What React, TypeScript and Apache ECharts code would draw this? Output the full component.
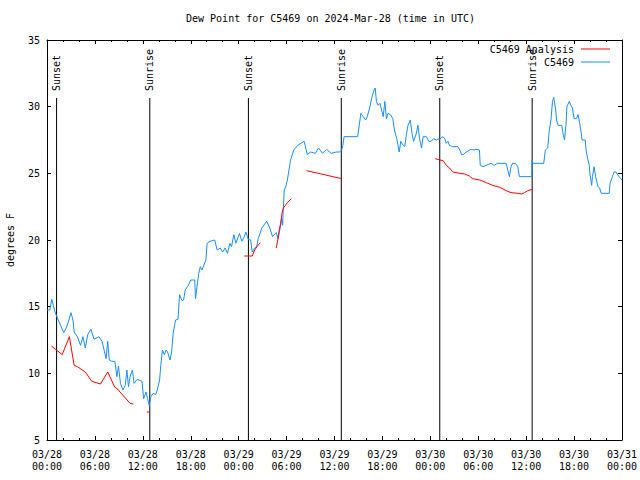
import React, { useEffect, useRef } from "react";
import * as echarts from "echarts";

// Hours since 2024-03-28 00:00 UTC
const START_UTC = Date.UTC(2024, 2, 28, 0, 0);

const TITLE = "Dew Point for C5469 on 2024-Mar-28 (time in UTC)";
const Y_NAME = "degrees F";
const SERIES_NAMES = ["C5469 Analysis", "C5469"];

// Y axis ticks
const Y_MIN = 5;
const Y_MAX = 35;
const Y_STEP = 5;
// X axis (hours)
const X_MIN = 0;
const X_MAX = 72;
const X_STEP = 6;

// Station observations [hour, value]
const stationObs: [number, number][] = [
  [0.0, 14.75], [0.35, 14.75], [0.6, 15.55], [0.8, 15.1], [1.0, 14.6], [1.3, 14.15],
  [1.7, 13.6], [2.1, 13.05], [2.4, 13.4], [2.7, 13.9], [3.0, 14.55], [3.25, 14.0],
  [3.4, 13.1], [3.8, 12.75], [4.2, 12.1], [4.5, 12.75], [4.8, 11.9], [5.1, 12.9],
  [5.5, 13.3], [5.9, 12.55], [6.5, 12.75], [6.9, 12.4], [7.2, 11.6], [7.4, 11.1],
  [7.6, 12.4], [7.8, 11.0], [8.1, 10.9], [8.5, 10.9], [8.75, 9.75], [8.95, 10.55],
  [9.2, 9.25], [9.5, 8.75], [9.8, 9.1], [10.0, 10.25], [10.2, 9.0], [10.4, 9.75],
  [10.7, 10.25], [10.9, 9.25], [11.3, 9.55], [11.9, 9.4], [12.1, 8.1], [12.4, 8.6],
  [12.6, 8.1], [12.8, 7.6], [13.0, 8.25], [13.3, 8.5], [13.6, 8.4], [13.8, 8.75],
  [14.1, 9.5], [14.25, 10.6], [14.45, 11.75], [14.7, 11.4], [14.9, 11.75], [15.1, 11.6],
  [15.4, 11.0], [15.6, 11.6], [15.8, 13.0], [16.1, 14.0], [16.4, 14.05], [16.6, 15.9],
  [16.9, 15.45], [17.1, 15.5], [17.3, 16.25], [17.7, 16.6], [18.0, 17.0], [18.5, 17.0],
  [18.6, 15.6], [18.7, 16.1], [19.0, 17.5], [19.2, 18.0], [19.4, 17.75], [19.9, 18.5],
  [20.05, 19.75], [20.4, 19.9], [21.0, 20.0], [21.3, 19.25], [21.7, 19.4], [22.0, 19.1],
  [22.3, 19.4], [22.6, 19.0], [22.9, 19.75], [23.1, 19.5], [23.4, 20.4], [23.65, 19.75],
  [24.1, 20.5], [24.4, 19.9], [24.7, 20.25], [24.9, 20.6], [25.2, 20.05], [25.5, 20.0],
  [25.7, 19.1], [26.0, 19.4], [26.25, 19.5], [26.45, 20.1], [26.9, 20.9], [27.5, 21.4],
  [27.9, 20.9], [28.25, 20.25], [28.7, 20.55], [28.95, 20.1], [29.2, 20.9], [29.4, 21.6],
  [29.5, 21.1], [29.6, 22.4], [29.7, 23.75], [29.9, 24.0], [30.1, 24.5], [30.5, 26.0],
  [30.9, 26.75], [31.4, 27.1], [31.9, 27.3], [32.2, 27.4], [32.6, 26.4], [33.0, 26.6],
  [33.6, 26.5], [34.0, 26.9], [34.5, 26.5], [35.0, 26.8], [35.6, 26.5], [36.2, 26.6],
  [36.6, 26.6], [36.9, 26.75], [37.05, 27.1], [37.2, 27.75], [38.9, 27.75], [39.1, 28.6],
  [39.3, 29.5], [39.6, 29.25], [39.9, 29.0], [40.1, 29.25], [40.4, 29.9], [40.7, 30.75],
  [40.95, 31.25], [41.1, 31.4], [41.25, 30.4], [41.45, 30.1], [41.7, 30.25], [41.9, 29.75],
  [42.1, 29.25], [42.3, 30.4], [42.5, 29.1], [42.7, 29.5], [43.0, 29.4], [43.3, 29.1],
  [43.5, 28.25], [43.8, 27.6], [44.1, 26.6], [44.3, 27.4], [44.6, 27.1], [44.8, 27.0],
  [45.0, 27.9], [45.2, 28.6], [45.5, 29.0], [45.7, 28.0], [45.9, 27.4], [46.2, 27.9],
  [46.45, 28.6], [46.65, 27.6], [46.9, 26.9], [47.1, 27.75], [47.5, 27.75], [47.8, 27.4],
  [48.1, 27.4], [48.4, 27.6], [48.75, 27.5], [49.2, 27.6], [49.6, 27.75], [49.8, 27.6],
  [50.0, 27.25], [50.2, 27.4], [50.4, 27.1], [50.8, 27.0], [51.45, 27.0], [51.7, 26.75],
  [51.9, 26.4], [52.1, 26.4], [52.5, 26.6], [53.1, 26.8], [53.5, 26.75], [53.7, 26.8],
  [54.15, 26.75], [54.25, 25.6], [54.6, 25.5], [55.0, 25.6], [55.6, 25.75], [56.0, 25.6],
  [56.4, 25.75], [57.5, 25.75], [57.7, 25.25], [57.9, 24.75], [58.1, 25.5], [58.3, 25.75],
  [58.65, 25.75], [58.95, 25.5], [59.15, 24.75], [60.7, 24.75], [60.75, 26.0], [60.8, 25.75],
  [62.2, 25.75], [62.4, 26.75], [62.7, 26.9], [62.9, 28.25], [63.1, 29.0], [63.3, 30.4],
  [63.45, 30.7], [63.7, 29.75], [63.8, 29.0], [64.0, 28.6], [64.45, 28.6], [64.65, 27.9],
  [64.8, 27.5], [65.0, 28.75], [65.1, 30.0], [65.4, 30.4], [65.6, 30.1], [65.8, 29.9],
  [66.0, 29.1], [66.3, 29.1], [66.5, 29.4], [66.7, 28.75], [66.9, 28.0], [67.0, 27.5],
  [67.4, 27.5], [67.5, 26.75], [67.7, 26.1], [67.9, 25.6], [68.0, 24.9], [68.2, 24.1],
  [68.3, 24.75], [68.4, 25.1], [68.5, 25.5], [68.7, 24.75], [69.0, 24.0], [69.2, 23.9],
  [69.4, 23.5], [70.4, 23.5], [70.5, 24.25], [70.8, 24.75], [71.0, 25.1], [71.25, 25.1],
  [71.45, 24.9], [71.7, 24.7], [72.0, 24.5],
];

// Analysis values [hour, value]; null = gap
const analysis: ([number, number] | null)[] = [
  [0.55, 12.05], [1.9, 11.4], [2.8, 12.75], [3.4, 10.6], [3.8, 10.5], [4.8, 10.1],
  [5.6, 9.4], [6.7, 9.2], [7.6, 10.1], [8.5, 8.95], [8.7, 8.9], [10.4, 7.75], [10.8, 7.7],
  null,
  [12.5, 7.1], [12.8, 7.1],
  null,
  [24.7, 18.8], [25.7, 18.8], [26.0, 19.25], [26.3, 19.5], [26.7, 19.8],
  null,
  [28.7, 19.4], [28.9, 20.0], [29.0, 20.5], [29.25, 21.25], [29.45, 22.1], [29.6, 22.4],
  [30.1, 22.8], [30.6, 23.1],
  null,
  [32.5, 25.2], [36.9, 24.6],
  null,
  [48.6, 26.1], [49.2, 26.0], [49.6, 25.95], [50.0, 25.6], [50.4, 25.4], [50.8, 25.1],
  [51.7, 25.0], [52.3, 24.95], [52.9, 24.8], [53.3, 24.6], [54.2, 24.5], [55.0, 24.3],
  [55.8, 24.1], [56.7, 23.95], [57.5, 23.7], [58.1, 23.55], [59.0, 23.5], [59.4, 23.45],
  [59.8, 23.55], [60.2, 23.7], [60.75, 23.8],
];

// Sun events (hour)
const sunNames = ["Sunset", "Sunrise", "Sunset", "Sunrise", "Sunset", "Sunrise"];
const sunHours = [1.2, 12.87, 25.22, 36.85, 49.18, 60.75];
const SUN_LINE_TOP = 30.65;

const FONT = "DejaVu Sans Mono";
const RED = "#ff0000";
const BLUE = "#1a8cff";

function fmtTick(v: number): string {
  const d = new Date(START_UTC + v * 3600 * 1000);
  const p = (n: number) => String(n).padStart(2, "0");
  return `${p(d.getUTCMonth() + 1)}/${p(d.getUTCDate())}\n${p(d.getUTCHours())}:${p(d.getUTCMinutes())}`;
}

export default function App() {
  const ref = useRef<HTMLDivElement>(null);
  useEffect(() => {
    document.body.style.margin = "0";
    if (!ref.current) return;
    const chart = echarts.init(ref.current, undefined, { renderer: "svg" });

    const sunLineData: ([number, number] | null)[] = [];
    sunHours.forEach((h) => {
      sunLineData.push([h, Y_MIN], [h, SUN_LINE_TOP], null);
    });

    const xAxisBase = {
      type: "value" as const,
      min: X_MIN,
      max: X_MAX,
      interval: X_STEP,
      splitLine: { show: false },
      axisLine: { show: true, onZero: false, lineStyle: { color: "#000", width: 1 } },
      axisTick: { show: true, inside: true, length: 4, lineStyle: { color: "#000" } },
      minorTick: { show: true, splitNumber: 3, length: 2, lineStyle: { color: "#000" } },
    };
    const yAxisBase = {
      type: "value" as const,
      min: Y_MIN,
      max: Y_MAX,
      interval: Y_STEP,
      splitLine: { show: false },
      axisLine: { show: true, onZero: false, lineStyle: { color: "#000", width: 1 } },
      axisTick: { show: true, inside: true, length: 4, lineStyle: { color: "#000" } },
    };

    chart.setOption({
      animation: false,
      backgroundColor: "#fff",
      title: {
        text: TITLE,
        left: 186,
        top: 13,
        padding: 0,
        textStyle: { fontFamily: FONT, fontSize: 10, fontWeight: "normal", color: "#000" },
      },
      grid: {
        left: 47,
        right: 18,
        top: 40,
        bottom: 40,
        containLabel: false,
        outerBoundsMode: "none",
      },
      xAxis: [
        {
          ...xAxisBase,
          position: "bottom",
          axisLabel: {
            show: true,
            formatter: fmtTick,
            fontFamily: FONT,
            fontSize: 10,
            lineHeight: 12,
            color: "#000",
            margin: 8,
          },
        },
        { ...xAxisBase, position: "top", axisLabel: { show: false } },
      ],
      yAxis: [
        {
          ...yAxisBase,
          position: "left",
          name: Y_NAME,
          nameLocation: "middle",
          nameGap: 32,
          nameTextStyle: { fontFamily: FONT, fontSize: 10, color: "#000" },
          axisLabel: { show: true, fontFamily: FONT, fontSize: 10, color: "#000", margin: 7 },
        },
        { ...yAxisBase, position: "right", axisLabel: { show: false } },
      ],
      series: [
        {
          name: "sun",
          type: "line",
          data: sunLineData,
          symbol: "none",
          connectNulls: false,
          lineStyle: { color: "#000", width: 1 },
          silent: true,
          z: 1,
        },
        {
          name: SERIES_NAMES[0],
          type: "line",
          data: analysis,
          symbol: "none",
          connectNulls: false,
          lineStyle: { color: RED, width: 1 },
          z: 3,
        },
        {
          name: SERIES_NAMES[1],
          type: "line",
          data: stationObs,
          symbol: "none",
          lineStyle: { color: BLUE, width: 1 },
          z: 2,
        },
      ],
    });

    const graphics: any[] = [];
    sunHours.forEach((h, i) => {
      const p = chart.convertToPixel({ xAxisIndex: 0, yAxisIndex: 0 }, [h, SUN_LINE_TOP]) as number[];
      graphics.push({
        type: "text",
        x: p[0],
        y: p[1] - 7,
        rotation: Math.PI / 2,
        style: {
          text: sunNames[i],
          fontFamily: FONT,
          fontSize: 10,
          fill: "#000",
          align: "left",
          verticalAlign: "middle",
        },
      });
    });
    // legend (gnuplot style: text then sample line)
    const legendRows = [
      { name: SERIES_NAMES[0], color: RED, y: 49.5 },
      { name: SERIES_NAMES[1], color: BLUE, y: 62.5 },
    ];
    legendRows.forEach((r) => {
      graphics.push({
        type: "text",
        x: 574,
        y: r.y,
        style: { text: r.name, fontFamily: FONT, fontSize: 10, fill: "#000", align: "right", verticalAlign: "middle" },
      });
      graphics.push({
        type: "line",
        shape: { x1: 581, y1: r.y - 0.5, x2: 610, y2: r.y - 0.5 },
        style: { stroke: r.color, lineWidth: 1 },
      });
    });
    chart.setOption({ graphic: graphics });

    return () => chart.dispose();
  }, []);
  return <div ref={ref} style={{ width: 640, height: 480 }} />;
}
